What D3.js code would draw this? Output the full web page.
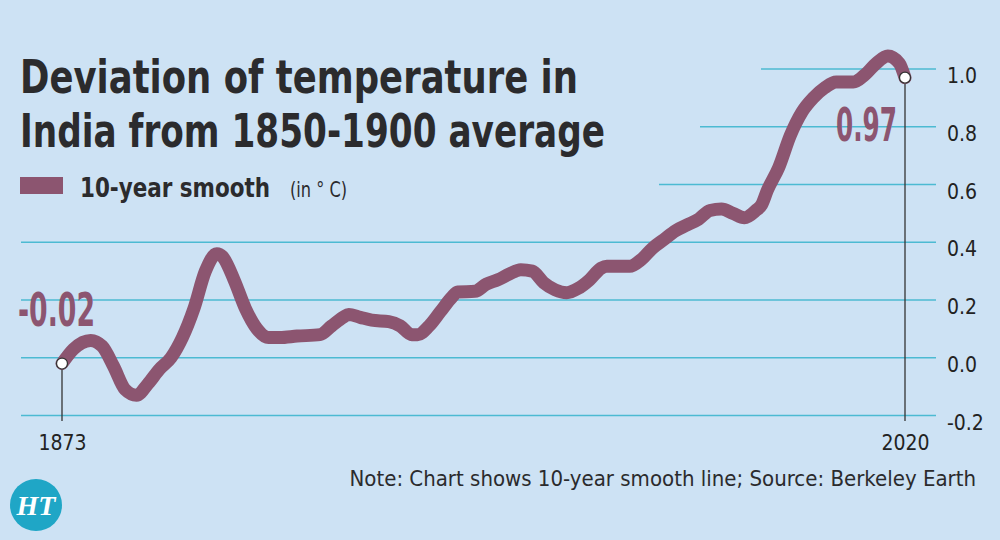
<!DOCTYPE html>
<html>
<head>
<meta charset="utf-8">
<script src="https://cdn.jsdelivr.net/npm/d3@7"></script>
<style>
  body { margin: 0; background: #cde2f4; }
  svg { display: block; }
  text { font-family: "Liberation Sans Narrow", "DejaVu Sans Condensed", sans-serif; }
</style>
</head>
<body>
<script>
var w = 1000;
var h = 540;

// 10-year smooth, deviation from 1850-1900 average (deg C)
var years = [1873, 1875, 1878, 1880, 1882, 1884, 1886, 1888, 1890, 1892, 1894, 1896, 1898, 1900,
  1901, 1903, 1905, 1907, 1909, 1911, 1914, 1918, 1920, 1922, 1923, 1925, 1927, 1930, 1932, 1934,
  1935, 1937, 1939, 1941, 1942, 1945, 1947, 1949, 1951, 1953, 1955, 1957, 1959, 1961, 1963, 1965,
  1967, 1968, 1972, 1974, 1976, 1978, 1980, 1982, 1984, 1986, 1988, 1990, 1992, 1994, 1995, 1996,
  1998, 2000, 2002, 2004, 2006, 2008, 2011, 2013, 2015, 2017, 2019, 2020];
var values = [-0.02, 0.03, 0.06, 0.04, -0.03, -0.11, -0.13, -0.09, -0.04, 0.0, 0.07, 0.17, 0.30, 0.36,
  0.35, 0.27, 0.17, 0.10, 0.07, 0.07, 0.075, 0.08, 0.11, 0.14, 0.15, 0.14, 0.13, 0.125, 0.11, 0.08,
  0.08, 0.11, 0.16, 0.21, 0.228, 0.23, 0.255, 0.27, 0.29, 0.305, 0.30, 0.26, 0.235, 0.225, 0.24, 0.27,
  0.31, 0.317, 0.317, 0.34, 0.38, 0.41, 0.44, 0.46, 0.48, 0.51, 0.515, 0.50, 0.485, 0.51, 0.53, 0.58,
  0.66, 0.77, 0.85, 0.90, 0.935, 0.955, 0.955, 0.98, 1.02, 1.045, 1.02, 0.97];
var yTicks = [-0.2, 0.0, 0.2, 0.4, 0.6, 0.8, 1.0];
var xTicks = [1873, 2020];
var endLabels = ['-0.02', '0.97'];

var lineColor = '#8c5570';
var gridColor = '#4cbad2';

var data = years.map(function(y, i) { return {year: y, value: values[i]}; });

var x = d3.scaleLinear().domain([1873, 2020]).range([62, 905]);
var y = d3.scaleLinear().domain([-0.2, 1.0]).range([415.5, 69]);

var svg = d3.select('body').append('svg').attr('width', w).attr('height', h);

svg.append('rect').attr('width', w).attr('height', h).attr('fill', '#cde2f4');

// shrink font size until the text fits the given width
function fitWidth(sel, maxW) {
  var node = sel.node();
  var fs = parseFloat(sel.attr('font-size'));
  var len = node.getComputedTextLength();
  if (len > maxW) sel.attr('font-size', fs * maxW / len);
}

// gridlines (short ones at top leave room for the title)
function gridStart(v) {
  if (v > 0.9) return 761;
  if (v > 0.7) return 700;
  if (v > 0.5) return 659;
  return 21;
}
svg.append('g').selectAll('line')
  .data(yTicks).enter()
  .append('line')
  .attr('x1', function(d) { return gridStart(d); })
  .attr('x2', 936)
  .attr('y1', function(d) { return y(d); })
  .attr('y2', function(d) { return y(d); })
  .attr('stroke', gridColor)
  .attr('stroke-width', 1.5);

// right axis labels
var yAxis = svg.append('g')
  .attr('transform', 'translate(936,0)')
  .call(d3.axisRight(y).tickValues(yTicks).tickSize(0).tickPadding(11)
    .tickFormat(function(d) { return d3.format('.1f')(d).replace('−', '-'); }));
yAxis.select('.domain').remove();
yAxis.selectAll('text')
  .attr('font-size', 21)
  .attr('fill', '#222')
  .attr('dy', '0.65em')
  .style('font-family', '"Liberation Sans Narrow", "DejaVu Sans Condensed", sans-serif');

// year labels
var xAxis = svg.append('g')
  .attr('transform', 'translate(0,430)')
  .call(d3.axisBottom(x).tickValues(xTicks).tickSize(0).tickPadding(5).tickFormat(d3.format('d')));
xAxis.select('.domain').remove();
xAxis.selectAll('text')
  .attr('font-size', 21)
  .attr('fill', '#222')
  .style('font-family', '"Liberation Sans Narrow", "DejaVu Sans Condensed", sans-serif');

// drop lines for start and end points
var ends = [data[0], data[data.length - 1]];
svg.append('g').selectAll('line')
  .data(ends).enter()
  .append('line')
  .attr('x1', function(d) { return x(d.year); })
  .attr('x2', function(d) { return x(d.year); })
  .attr('y1', function(d) { return y(d.value); })
  .attr('y2', 421)
  .attr('stroke', '#333')
  .attr('stroke-width', 1.3);

// the line
var line = d3.line()
  .x(function(d) { return x(d.year); })
  .y(function(d) { return y(d.value); })
  .curve(d3.curveMonotoneX);

svg.append('path')
  .datum(data)
  .attr('d', line)
  .attr('fill', 'none')
  .attr('stroke', lineColor)
  .attr('stroke-width', 13)
  .attr('stroke-linejoin', 'round')
  .attr('stroke-linecap', 'round');

svg.append('g').selectAll('circle')
  .data(ends).enter()
  .append('circle')
  .attr('cx', function(d) { return x(d.year); })
  .attr('cy', function(d) { return y(d.value); })
  .attr('r', 5.5)
  .attr('fill', '#fff')
  .attr('stroke', '#333')
  .attr('stroke-width', 1.3);

// value labels
svg.append('text')
  .attr('x', 95).attr('y', 326)
  .attr('text-anchor', 'end')
  .attr('font-size', 46).attr('font-weight', 'bold')
  .attr('fill', lineColor)
  .attr('textLength', 77).attr('lengthAdjust', 'spacingAndGlyphs')
  .text(endLabels[0]);
svg.append('text')
  .attr('x', 897).attr('y', 141)
  .attr('text-anchor', 'end')
  .attr('font-size', 46).attr('font-weight', 'bold')
  .attr('fill', lineColor)
  .attr('textLength', 61).attr('lengthAdjust', 'spacingAndGlyphs')
  .text(endLabels[1]);

// title
var title = ['Deviation of temperature in', 'India from 1850-1900 average'];
var titleW = [558, 585];
svg.append('g').selectAll('text')
  .data(title).enter()
  .append('text')
  .attr('x', 20)
  .attr('y', function(d, i) { return 93 + i * 54; })
  .attr('font-size', 47).attr('font-weight', 'bold')
  .attr('fill', '#2b2b2d')
  .attr('textLength', function(d, i) { return titleW[i]; })
  .attr('lengthAdjust', 'spacingAndGlyphs')
  .text(function(d) { return d; });

// legend
svg.append('rect')
  .attr('x', 20).attr('y', 177).attr('width', 43).attr('height', 17)
  .attr('fill', lineColor);
svg.append('text')
  .attr('x', 80).attr('y', 197)
  .attr('font-size', 27).attr('font-weight', 'bold')
  .attr('fill', '#2b2b2d')
  .attr('textLength', 190).attr('lengthAdjust', 'spacingAndGlyphs')
  .text('10-year smooth');
svg.append('text')
  .attr('x', 290).attr('y', 197)
  .attr('font-size', 22)
  .attr('fill', '#2b2b2d')
  .attr('textLength', 57).attr('lengthAdjust', 'spacingAndGlyphs')
  .text('(in ° C)');

// note
var note = svg.append('text')
  .attr('x', 976).attr('y', 486)
  .attr('text-anchor', 'end')
  .attr('font-size', 23)
  .attr('fill', '#2b2b2d')
  .text('Note: Chart shows 10-year smooth line; Source: Berkeley Earth');
fitWidth(note, 627);

// HT logo
svg.append('circle')
  .attr('cx', 36).attr('cy', 505).attr('r', 26)
  .attr('fill', '#1fa6c6');
svg.append('text')
  .attr('x', 36).attr('y', 515)
  .attr('text-anchor', 'middle')
  .attr('font-size', 28).attr('font-style', 'italic').attr('font-weight', 'bold')
  .attr('fill', '#fff')
  .style('font-family', '"Liberation Serif", "DejaVu Serif", serif')
  .text('HT');
</script>
</body>
</html>
